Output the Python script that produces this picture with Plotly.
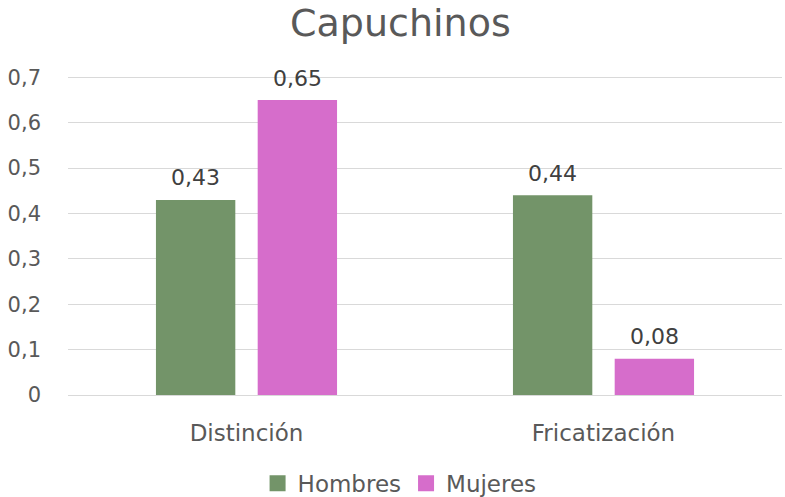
import plotly.graph_objects as go

categories = ["Distinción", "Fricatización"]
hombres = [0.43, 0.44]
mujeres = [0.65, 0.08]
hombres_labels = ["0,43", "0,44"]
mujeres_labels = ["0,65", "0,08"]
tick_vals = [0, 0.1, 0.2, 0.3, 0.4, 0.5, 0.6, 0.7]
tick_text = ["0", "0,1", "0,2", "0,3", "0,4", "0,5", "0,6", "0,7"]

font_family = "DejaVu Sans, sans-serif"
text_color = "#595959"
label_color = "#404040"
green, pink = "#739469", "#D66DCB"

W, H = 785, 497
ML, MR, MT, MB = 68, 3, 76, 102
BARGAP, GROUPGAP = 0.43, 0.22

fig = go.Figure()
fig.add_trace(go.Bar(name="Hombres", x=categories, y=hombres, marker_color=green,
                     marker_line_width=0, showlegend=False))
fig.add_trace(go.Bar(name="Mujeres", x=categories, y=mujeres, marker_color=pink,
                     marker_line_width=0, showlegend=False))
# legend entries with larger square swatches
for name, col in (("Hombres", green), ("Mujeres", pink)):
    fig.add_trace(go.Scatter(name=name, x=[None], y=[None], mode="markers",
                             marker=dict(symbol="square", size=16, color=col),
                             hoverinfo="skip"))

# data labels as annotations offset to each bar's slot
plot_w = W - ML - MR
cat_w = plot_w / len(categories)
slot = (1 - BARGAP) * cat_w / 2
for vals, labels, sign in ((hombres, hombres_labels, -1), (mujeres, mujeres_labels, 1)):
    for c, v, t in zip(categories, vals, labels):
        fig.add_annotation(x=c, y=v, text=t, showarrow=False, xshift=sign * slot / 2,
                           yanchor="middle", yshift=22,
                           font=dict(size=22, color=label_color, family=font_family))

fig.update_layout(
    width=W, height=H,
    margin=dict(l=ML, r=MR, t=MT, b=MB, autoexpand=False),
    paper_bgcolor="white", plot_bgcolor="white",
    barmode="group", bargap=BARGAP, bargroupgap=GROUPGAP,
    title=dict(text="Capuchinos", x=0.51, xanchor="center", y=0.955, yanchor="middle",
               font=dict(size=38, color=text_color, family=font_family)),
    font=dict(family=font_family, color=text_color, size=21),
    legend=dict(orientation="h", x=0.4644, xanchor="center", y=-0.277, yanchor="middle",
                font=dict(size=23, color=text_color), itemwidth=30,
                tracegroupgap=0),
)
fig.update_xaxes(showgrid=False, showline=False, ticks="", automargin=False,
                 ticklabelstandoff=22,
                 tickfont=dict(size=23, color=text_color))
fig.update_yaxes(range=[0, 0.703], tickvals=tick_vals, ticktext=tick_text,
                 showgrid=True, gridcolor="#D9D9D9", gridwidth=1,
                 zeroline=True, zerolinecolor="#D9D9D9", zerolinewidth=1,
                 ticks="", ticklabelstandoff=26, automargin=False,
                 tickfont=dict(size=21, color=text_color))

fig.write_html("out.html", config={"displayModeBar": False},
               post_script="document.body.style.margin='0';document.body.style.padding='0';")
